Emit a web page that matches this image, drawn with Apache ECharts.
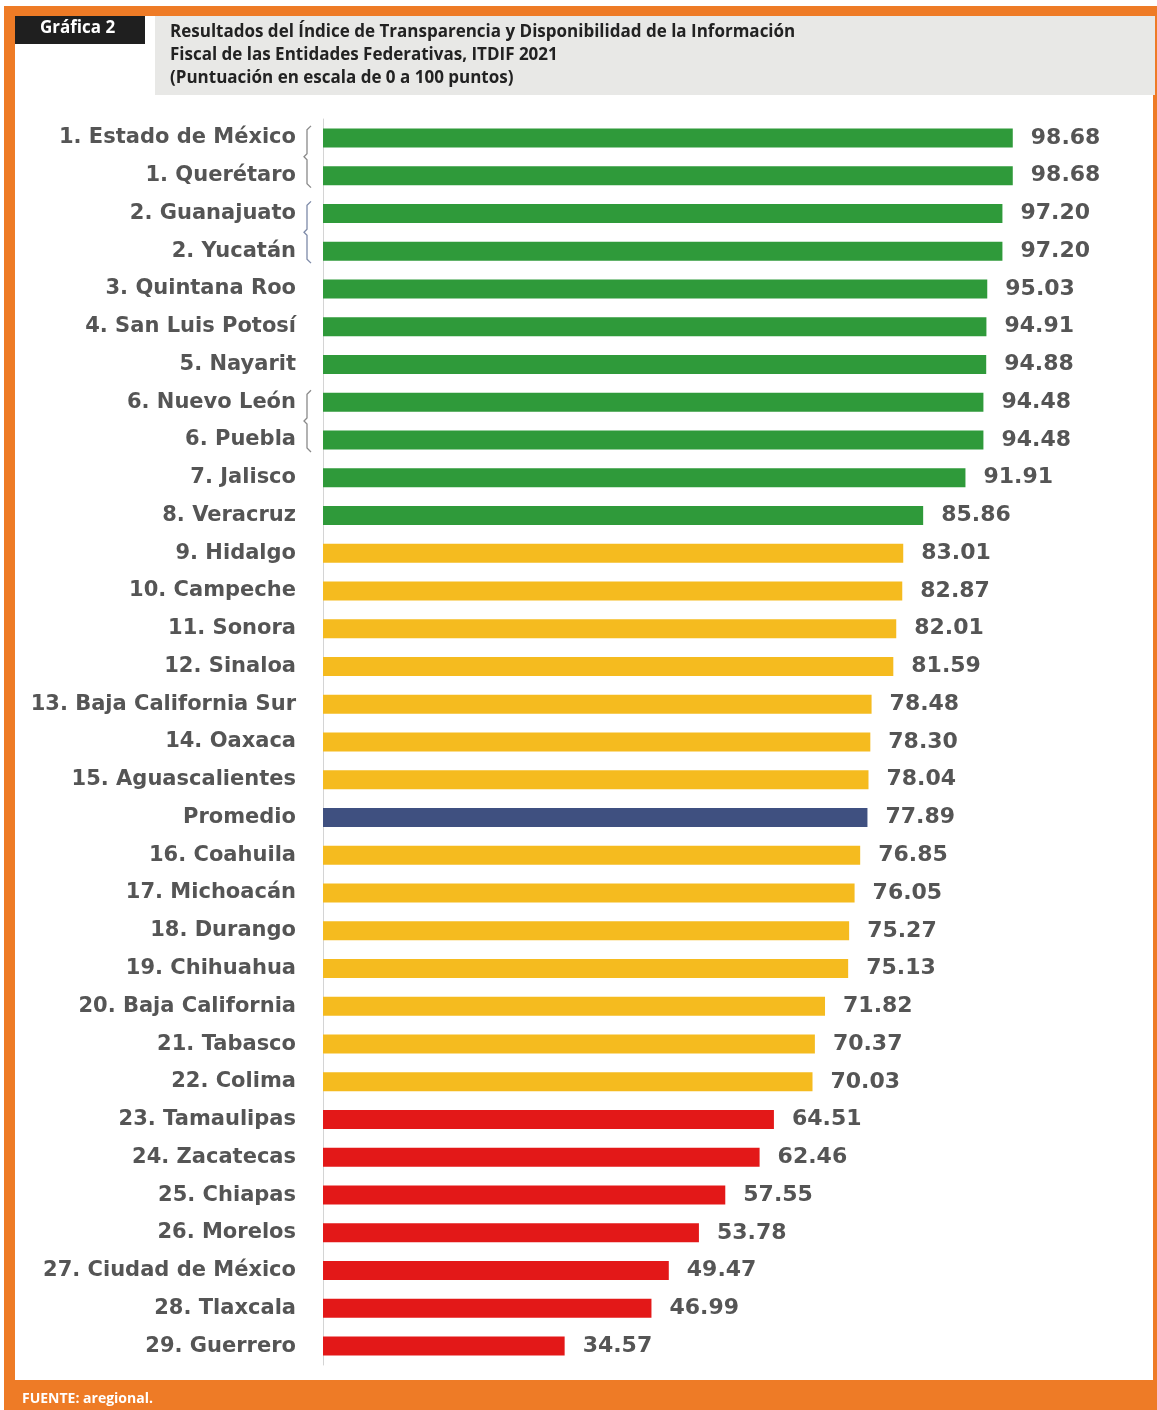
<!DOCTYPE html>
<html>
<head>
<meta charset="utf-8">
<title>ITDIF 2021</title>
<script src="https://cdn.jsdelivr.net/npm/echarts@6/dist/echarts.min.js"></script>
<style>
  html, body { margin: 0; padding: 0; background: #fff; }
  #main { width: 1157px; height: 1410px; }
</style>
</head>
<body>
<div id="main"></div>
<script>
// datos de la gráfica
var categorias = [
  "1. Estado de México", "1. Querétaro", "2. Guanajuato", "2. Yucatán",
  "3. Quintana Roo", "4. San Luis Potosí", "5. Nayarit", "6. Nuevo León",
  "6. Puebla", "7. Jalisco", "8. Veracruz", "9. Hidalgo", "10. Campeche",
  "11. Sonora", "12. Sinaloa", "13. Baja California Sur", "14. Oaxaca",
  "15. Aguascalientes", "Promedio", "16. Coahuila", "17. Michoacán",
  "18. Durango", "19. Chihuahua", "20. Baja California", "21. Tabasco",
  "22. Colima", "23. Tamaulipas", "24. Zacatecas", "25. Chiapas",
  "26. Morelos", "27. Ciudad de México", "28. Tlaxcala", "29. Guerrero"
];
var puntajes = [
  98.68, 98.68, 97.20, 97.20, 95.03, 94.91, 94.88, 94.48, 94.48, 91.91, 85.86,
  83.01, 82.87, 82.01, 81.59, 78.48, 78.30, 78.04, 77.89, 76.85, 76.05,
  75.27, 75.13, 71.82, 70.37, 70.03, 64.51, 62.46, 57.55, 53.78, 49.47,
  46.99, 34.57
];
// nivel de cada entidad
var niveles = [
  "alto", "alto", "alto", "alto", "alto", "alto", "alto", "alto", "alto", "alto", "alto",
  "medio", "medio", "medio", "medio", "medio", "medio", "medio", "promedio",
  "medio", "medio", "medio", "medio", "medio", "medio", "medio",
  "bajo", "bajo", "bajo", "bajo", "bajo", "bajo", "bajo"
];
// empates (índice inicial, índice final)
var empates = [[0, 1], [2, 3], [7, 8]];

var colores = {
  alto: "#2f9a3a",
  medio: "#f5bb1f",
  promedio: "#3f5080",
  bajo: "#e31818"
};
var coloresLlave = ["#8a8a8a", "#7d8aa8", "#8a8a8a"];

var myChart = echarts.init(document.getElementById("main"));

var option = {
  backgroundColor: "#ffffff",
  animation: false,
  textStyle: { fontFamily: "DejaVu Sans" },
  grid: { left: 323, right: 135, top: 119, bottom: 45 },
  xAxis: {
    type: "value",
    min: 0,
    max: 100,
    show: false
  },
  yAxis: {
    type: "category",
    inverse: true,
    data: categorias,
    axisLine: { show: true, lineStyle: { color: "#d4d4d4", width: 1 } },
    axisTick: { show: false },
    axisLabel: {
      color: "#555555",
      fontWeight: "bold",
      fontSize: 21,
      margin: 27,
      padding: [5, 0, 0, 0],
      fontFamily: "DejaVu Sans"
    }
  },
  graphic: [
    // marco naranja
    { type: "rect", z: -10, shape: { x: 4, y: 6, width: 1153, height: 1404 }, style: { fill: "#ee7b26" } },
    { type: "rect", z: -9, shape: { x: 15, y: 16, width: 1138, height: 1364 }, style: { fill: "#ffffff" } },
    { type: "rect", z: -8, shape: { x: 155, y: 16, width: 1000, height: 79 }, style: { fill: "#e8e8e6" } },
    { type: "rect", z: -8, shape: { x: 15, y: 16, width: 130, height: 28 }, style: { fill: "#1f1f1f" } },
    {
      type: "text", left: 40, top: 20,
      style: { text: "Gráfica 2", fill: "#ffffff", font: "bold 17px 'Open Sans'" }
    },
    {
      type: "text", left: 170, top: 21,
      style: {
        text: "Resultados del Índice de Transparencia y Disponibilidad de la Información\nFiscal de las Entidades Federativas, ITDIF 2021\n(Puntuación en escala de 0 a 100 puntos)",
        fill: "#222222",
        font: "bold 17px 'Open Sans'",
        lineHeight: 23
      }
    },
    {
      type: "text", left: 22, top: 1392,
      style: { text: "FUENTE: aregional.", fill: "#ffffff", font: "bold 14px 'Open Sans'" }
    }
  ],
  series: [
    {
      type: "bar",
      data: puntajes.map(function (v, i) {
        return { value: v, itemStyle: { color: colores[niveles[i]] } };
      }),
      barWidth: 19,
      label: {
        show: true,
        position: "right",
        distance: 18,
        color: "#555555",
        fontWeight: "bold",
        fontSize: 22,
        padding: [5, 0, 0, 0],
        fontFamily: "DejaVu Sans",
        formatter: function (p) { return p.value.toFixed(2); }
      }
    },
    {
      // llaves de empate
      type: "custom",
      silent: true,
      data: empates.map(function (e) { return [0, e[0], e[1]]; }),
      encode: { x: 0, y: 1 },
      renderItem: function (params, api) {
        var a = api.coord([0, api.value(1)]);
        var b = api.coord([0, api.value(2)]);
        var x = a[0] - 16;
        var y1 = a[1] - 12;
        var y2 = b[1] + 12;
        var ym = (y1 + y2) / 2;
        var path = "M" + (x + 4) + " " + y1 + " L" + x + " " + (y1 + 4) +
          " L" + x + " " + (ym - 3) + " L" + (x - 3) + " " + ym +
          " L" + x + " " + (ym + 3) + " L" + x + " " + (y2 - 4) +
          " L" + (x + 4) + " " + y2;
        return {
          type: "path",
          shape: { pathData: path },
          style: {
            fill: "none",
            stroke: coloresLlave[params.dataIndex],
            lineWidth: 1.3
          }
        };
      }
    }
  ]
};

myChart.setOption(option);
</script>
</body>
</html>
